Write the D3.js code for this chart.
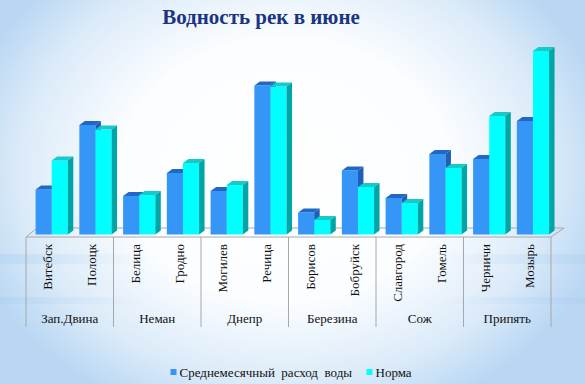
<!DOCTYPE html>
<html><head><meta charset="utf-8">
<script src="https://cdn.jsdelivr.net/npm/d3@7"></script>
<style>html,body{margin:0;padding:0;overflow:hidden;background:#fff}</style>
</head><body><svg id="c" width="585" height="384"></svg>
<script>
const title = "Водность рек в июне";
const stations = ["Витебск","Полоцк","Белица","Гродно","Могилев","Речица","Борисов","Бобруйск","Славгород","Гомель","Черничи","Мозырь"];
const rivers = ["Зап.Двина","Неман","Днепр","Березина","Сож","Припять"];
const seriesNames = ["Среднемесячный  расход  воды","Норма"];
const monthlyFlow = [90,219,77,123,87,298,44,128,73,161,151,227];
const norm = [148,210,79,143,99,296,29,95,63,133,237,367];

const FONT = '"Liberation Serif"';
const svg = d3.select("#c");
const W = 585, H = 384;
const defs = svg.append("defs");
const rg = defs.append("radialGradient").attr("id","bg").attr("gradientUnits","userSpaceOnUse")
  .attr("cx",285).attr("cy",170).attr("r",330).attr("gradientTransform","matrix(1,0,0,0.8,0,34)");
rg.append("stop").attr("offset","0%").attr("stop-color","#ffffff");
rg.append("stop").attr("offset","50%").attr("stop-color","#fbfdff");
rg.append("stop").attr("offset","80%").attr("stop-color","#dcebf9");
rg.append("stop").attr("offset","100%").attr("stop-color","#b9d7f3");
svg.append("rect").attr("width",W).attr("height",H).attr("fill","url(#bg)");
const lg = defs.append("linearGradient").attr("id","st").attr("x1",0).attr("x2",1);
lg.append("stop").attr("offset","0%").attr("stop-color","#a9cdee").attr("stop-opacity",0.35);
lg.append("stop").attr("offset","25%").attr("stop-color","#a9cdee").attr("stop-opacity",0.0);
lg.append("stop").attr("offset","75%").attr("stop-color","#a9cdee").attr("stop-opacity",0.0);
lg.append("stop").attr("offset","100%").attr("stop-color","#a9cdee").attr("stop-opacity",0.35);
[[254,10],[297,7]].forEach(s=>svg.append("rect").attr("x",0).attr("y",s[0]).attr("width",W).attr("height",s[1]).attr("fill","url(#st)"));

svg.append("text").attr("x",261).attr("y",24).attr("text-anchor","middle")
  .style("font-family",FONT).style("font-weight","bold").style("font-size","21px").attr("fill","#1b3581").text(title);

const x0 = d3.scaleBand().domain(stations).range([26,551]).padding(0);
const x1 = d3.scaleBand().domain([0,1]).range([9.6,41.8]).padding(0);
const y = d3.scaleLinear().domain([0,400]).range([234.5,34.5]);
const base = y(0);
const dx = 5.5, dy = -4;

const fl = svg.append("g").attr("stroke","#a8a8a8").attr("stroke-width",1).attr("fill","none");
const fy = 237, bdx = 11, bdy = -9;
fl.append("path").attr("d",`M26,${fy}L551,${fy}L${551+bdx+2},${fy+bdy}L${26+bdx},${fy+bdy}Z`);

const colors = [
  {front:"#3696f8", top:"#2068c6", side:"#1e5fb8"},
  {front:"#00ffff", top:"#17c9c9", side:"#00a6a6"}
];
const series = [monthlyFlow, norm];
const g = svg.append("g");
stations.forEach((s,i)=>{
  series.forEach((vals,k)=>{
    const xx = x0(s)+x1(k), w = x1.bandwidth(), yy = y(vals[i]), c = colors[k];
    g.append("rect").attr("x",xx).attr("y",yy).attr("width",w).attr("height",base-yy).attr("fill",c.front);
    g.append("path").attr("d",`M${xx},${yy}L${xx+dx},${yy+dy}L${xx+w+dx},${yy+dy}L${xx+w},${yy}Z`).attr("fill",c.top);
    g.append("path").attr("d",`M${xx+w},${yy}L${xx+w+dx},${yy+dy}L${xx+w+dx},${base+dy}L${xx+w},${base}Z`).attr("fill",c.side);
  });
});

stations.forEach(s=>{
  const cx = x0(s)+x0.bandwidth()/2;
  svg.append("text").attr("transform",`translate(${cx+4.5},244) rotate(-90)`)
    .attr("text-anchor","end").style("font-family",FONT).style("font-size","13px").attr("fill","#111").text(s);
});
const ax = svg.append("g").attr("stroke","#a8a8a8").attr("stroke-width",1);
for(let k=0;k<=rivers.length;k++){
  const xv = k<rivers.length ? x0(stations[2*k]) : x0.range()[1];
  ax.append("line").attr("x1",xv).attr("x2",xv).attr("y1",fy).attr("y2",327);
}
rivers.forEach((r,k)=>{
  const cx = (x0(stations[2*k]) + x0(stations[2*k+1]) + x0.bandwidth())/2;
  svg.append("text").attr("x",cx).attr("y",323).attr("text-anchor","middle")
    .style("font-family",FONT).style("font-size","13px").attr("fill","#111").text(r);
});

const legX = [170.5, 366.5];
seriesNames.forEach((n,k)=>{
  svg.append("rect").attr("x",legX[k]).attr("y",369).attr("width",6).attr("height",6).attr("fill",colors[k].front);
  svg.append("text").attr("x",legX[k]+9).attr("y",377).style("font-family",FONT).style("font-size","13px")
    .attr("fill","#111").style("white-space","pre").text(n);
});
</script></body></html>
